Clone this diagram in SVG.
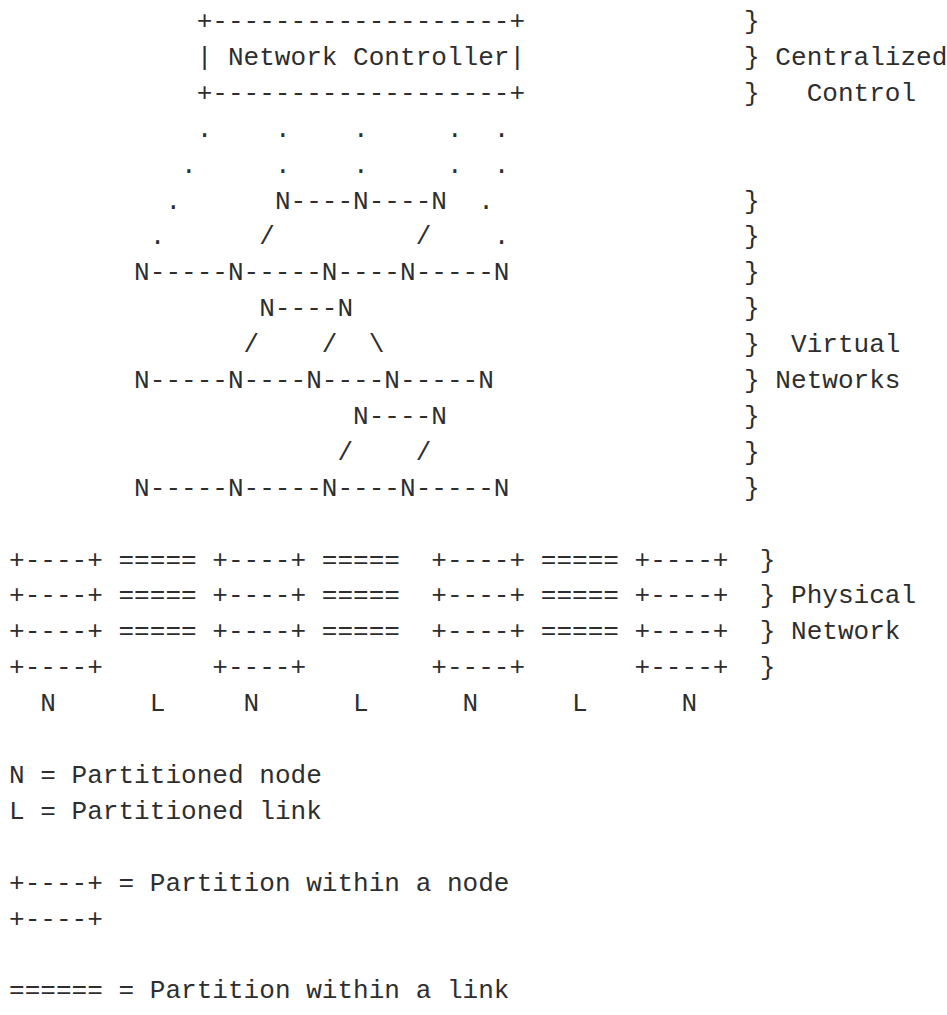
<svg xmlns="http://www.w3.org/2000/svg" width="947" height="1015" viewBox="0 0 947 1015">
<style>
text{font-family:"Liberation Mono","DejaVu Sans Mono",monospace;font-size:26.07px;fill:#2e2e2e;}
</style>
<rect x="0" y="0" width="947" height="1015" fill="#ffffff"/>
<g id="controller">
<text y="29"><tspan x="196.68">+-------------------+</tspan></text>
<text y="64.9"><tspan x="196.68">|</tspan><tspan x="227.96">Network</tspan><tspan x="353.08">Controller|</tspan></text>
<text y="100.8"><tspan x="196.68">+-------------------+</tspan></text>
</g>
<g id="control-links">
<text y="136.7"><tspan x="196.68">.</tspan><tspan x="274.88">.</tspan><tspan x="353.08">.</tspan><tspan x="446.92">.</tspan><tspan x="493.84">.</tspan></text>
<text y="172.6"><tspan x="181.04">.</tspan><tspan x="274.88">.</tspan><tspan x="353.08">.</tspan><tspan x="446.92">.</tspan><tspan x="493.84">.</tspan></text>
</g>
<g id="virtual-networks">
<text y="208.5"><tspan x="165.4">.</tspan><tspan x="274.88">N----N----N</tspan><tspan x="478.2">.</tspan></text>
<text y="244.4"><tspan x="149.76">.</tspan><tspan x="259.24">/</tspan><tspan x="415.64">/</tspan><tspan x="493.84">.</tspan></text>
<text y="280.3"><tspan x="134.12">N-----N-----N----N-----N</tspan></text>
<text y="316.2"><tspan x="259.24">N----N</tspan></text>
<text y="352.1"><tspan x="243.6">/</tspan><tspan x="321.8">/</tspan><tspan x="368.72">\</tspan></text>
<text y="388"><tspan x="134.12">N-----N----N----N-----N</tspan></text>
<text y="423.9"><tspan x="353.08">N----N</tspan></text>
<text y="459.8"><tspan x="337.44">/</tspan><tspan x="415.64">/</tspan></text>
<text y="495.7"><tspan x="134.12">N-----N-----N----N-----N</tspan></text>
</g>
<g id="physical-network">
<text y="567.5"><tspan x="9">+----+</tspan><tspan x="118.48">=====</tspan><tspan x="212.32">+----+</tspan><tspan x="321.8">=====</tspan><tspan x="431.28">+----+</tspan><tspan x="540.76">=====</tspan><tspan x="634.6">+----+</tspan></text>
<text y="603.4"><tspan x="9">+----+</tspan><tspan x="118.48">=====</tspan><tspan x="212.32">+----+</tspan><tspan x="321.8">=====</tspan><tspan x="431.28">+----+</tspan><tspan x="540.76">=====</tspan><tspan x="634.6">+----+</tspan></text>
<text y="639.3"><tspan x="9">+----+</tspan><tspan x="118.48">=====</tspan><tspan x="212.32">+----+</tspan><tspan x="321.8">=====</tspan><tspan x="431.28">+----+</tspan><tspan x="540.76">=====</tspan><tspan x="634.6">+----+</tspan></text>
<text y="675.2"><tspan x="9">+----+</tspan><tspan x="212.32">+----+</tspan><tspan x="431.28">+----+</tspan><tspan x="634.6">+----+</tspan></text>
<text y="711.1"><tspan x="40.28">N</tspan><tspan x="149.76">L</tspan><tspan x="243.6">N</tspan><tspan x="353.08">L</tspan><tspan x="462.56">N</tspan><tspan x="572.04">L</tspan><tspan x="681.52">N</tspan></text>
</g>
<g id="braces">
<text y="29"><tspan x="744.08">}</tspan></text>
<text y="64.9"><tspan x="744.08">}</tspan><tspan x="775.36">Centralized</tspan></text>
<text y="100.8"><tspan x="744.08">}</tspan><tspan x="806.64">Control</tspan></text>
<text y="208.5"><tspan x="744.08">}</tspan></text>
<text y="244.4"><tspan x="744.08">}</tspan></text>
<text y="280.3"><tspan x="744.08">}</tspan></text>
<text y="316.2"><tspan x="744.08">}</tspan></text>
<text y="352.1"><tspan x="744.08">}</tspan><tspan x="791">Virtual</tspan></text>
<text y="388"><tspan x="744.08">}</tspan><tspan x="775.36">Networks</tspan></text>
<text y="423.9"><tspan x="744.08">}</tspan></text>
<text y="459.8"><tspan x="744.08">}</tspan></text>
<text y="495.7"><tspan x="744.08">}</tspan></text>
<text y="567.5"><tspan x="759.72">}</tspan></text>
<text y="603.4"><tspan x="759.72">}</tspan><tspan x="791">Physical</tspan></text>
<text y="639.3"><tspan x="759.72">}</tspan><tspan x="791">Network</tspan></text>
<text y="675.2"><tspan x="759.72">}</tspan></text>
</g>
<g id="legend">
<text x="9" y="782.9">N = Partitioned node</text>
<text x="9" y="818.8">L = Partitioned link</text>
<text x="9" y="890.6">+----+ = Partition within a node</text>
<text x="9" y="926.5">+----+</text>
<text x="9" y="998.3">====== = Partition within a link</text>
</g>
</svg>
